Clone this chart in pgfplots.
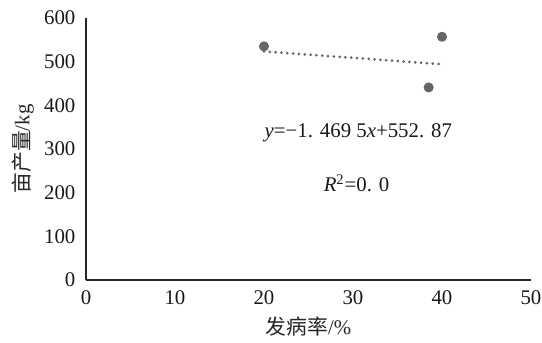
\documentclass[border=0pt]{standalone}
\usepackage{fontspec}
\setmainfont{Liberation Serif}
\newfontfamily\cjk{Noto Sans CJK SC}
\usepackage{pgfplots}
\pgfplotsset{compat=1.18}
\definecolor{ptgray}{HTML}{666666}
\begin{document}
\fontsize{12.5}{14}\selectfont
\begin{tikzpicture}
\begin{axis}[
  at={(0,0)}, anchor=south west,
  scale only axis, width=267pt, height=157.2pt,
  xmin=0, xmax=50, ymin=0, ymax=600,
  axis lines=left, axis line style={-, line width=0.8pt, black!85},
  xtick={0,10,...,50}, ytick={0,100,...,600},
  major tick length=0pt,
  tick label style={font=\fontsize{12.5}{14}\selectfont, text=black!90},
  /pgf/number format/assume math mode=true,
  xticklabel style={yshift=-2pt},
  yticklabel style={xshift=-2pt},
  xlabel={{\cjk 发病率}/\%},
  ylabel={{\cjk 亩产量}/kg},
  label style={font=\fontsize{12.5}{14}\selectfont, text=black!85},
  xlabel style={at={(axis description cs:0.5,-0.178)}, anchor=center},
  ylabel style={at={(axis description cs:-0.142,0.5)}, anchor=center, rotate=0},
  clip=false,
]
\addplot[only marks, mark=*, mark size=2.8pt, ptgray, mark options={draw=ptgray, fill=ptgray}]
  coordinates {(20,535) (38.5,441) (40,557)};
\addplot[ptgray, line width=1.8pt, line cap=round, dash pattern=on 0pt off 3.5pt]
  coordinates {(20,523.48) (40,494.09)};
\node[font=\fontsize{12.5}{14}\selectfont, text=black!90] at (axis cs:30.6,336) {\textit{y}=−1. 469 5\textit{x}+552. 87};
\node[font=\fontsize{12.5}{14}\selectfont, text=black!90] at (axis cs:30.4,222) {\textit{R}\textsuperscript{2}=0. 0};
\end{axis}
\pgfresetboundingbox
\useasboundingbox (-51.6pt,-37.8pt) rectangle (273.6pt,168pt);
\end{tikzpicture}
\end{document}
